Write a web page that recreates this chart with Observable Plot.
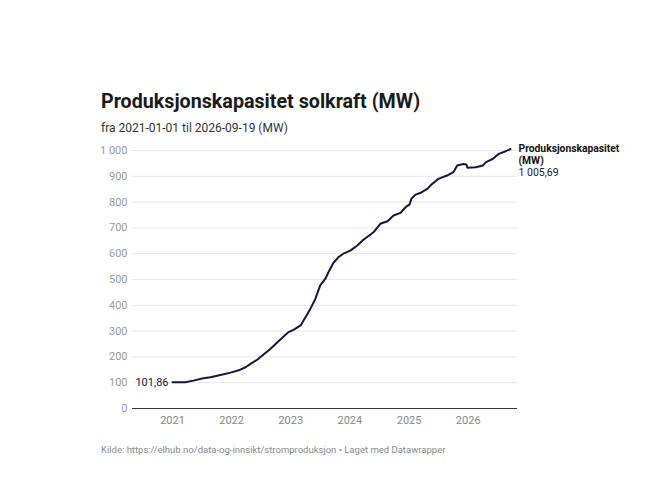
<!DOCTYPE html>
<html>
<head>
<meta charset="utf-8">
<script src="https://cdn.jsdelivr.net/npm/d3@7"></script>
<script src="https://cdn.jsdelivr.net/npm/@observablehq/plot@0.6"></script>
<style>
  html, body { margin: 0; padding: 0; background: #fff; }
  body { width: 650px; height: 500px; position: relative; font-family: Roboto, "Noto Sans", sans-serif; overflow: hidden; }
  .title { position: absolute; left: 101px; top: 90px; font-size: 19.7px; font-weight: 700; color: #1a1a1a; line-height: normal; white-space: nowrap; }
  .subtitle { position: absolute; left: 101px; top: 120.5px; font-size: 12px; color: #333; line-height: normal; white-space: nowrap; }
  .footer { position: absolute; left: 101px; top: 443.5px; font-size: 9.5px; color: #888; line-height: normal; white-space: nowrap; }
  #chart { position: absolute; left: 0; top: 140px; }
</style>
</head>
<body>
<div class="title">Produksjonskapasitet solkraft (MW)</div>
<div class="subtitle">fra 2021-01-01 til 2026-09-19 (MW)</div>
<div id="chart"></div>
<div class="footer">Kilde: https://elhub.no/data-og-innsikt/stromproduksjon • Laget med Datawrapper</div>
<script>
// Series: dates and values
const dates = [
  "2021-01-01","2021-03-21","2021-05-10","2021-07-10","2021-08-23","2021-10-24","2021-12-26",
  "2022-02-14","2022-03-28","2022-04-28","2022-06-10","2022-07-17","2022-08-28","2022-10-11",
  "2022-11-18","2022-12-18","2023-01-18","2023-03-03","2023-04-02","2023-05-02","2023-06-02",
  "2023-07-02","2023-08-03","2023-08-22","2023-09-21","2023-10-22","2023-11-22","2024-01-04",
  "2024-02-16","2024-03-25","2024-05-26","2024-07-07","2024-08-20","2024-09-27","2024-11-09",
  "2024-12-10","2025-01-04","2025-01-15","2025-02-10","2025-03-13","2025-04-25","2025-05-19",
  "2025-07-01","2025-08-23","2025-10-01","2025-10-25","2025-12-02","2025-12-21","2025-12-27",
  "2026-02-17","2026-04-01","2026-04-21","2026-06-03","2026-07-09","2026-08-08","2026-09-19"
];
const values = [
  101.86,102,108,117,121,130,139,
  148,160,173,190,209,231,257,
  279,296,305,322,354,386,425,
  477,503,528,564,586,600,612,
  632,654,683,716,726,748,758,
  780,791,813,829,836,852,868,
  890,903,916,942,948,946,933,
  935,942,955,968,987,994,1005.69
];
const seriesName = "Produksjonskapasitet";
const seriesUnit = "(MW)";
const yTicks = [0,100,200,300,400,500,600,700,800,900,1000];
const xTickLabels = ["2021","2022","2023","2024","2025","2026"];

const data = dates.map((d, i) => ({date: new Date(d + "T00:00:00Z"), value: values[i]}));
const first = data[0], last = data[data.length - 1];
const xTicks = xTickLabels.map(s => new Date(Date.UTC(+s, 0, 1)));

const loc = d3.formatLocale({decimal: ",", thousands: " ", grouping: [3], currency: ["", ""]});
const fmtInt = loc.format(",");
const fmt2 = loc.format(",.2f");
const navy = "#17153f";

const chart = Plot.plot({
  width: 650,
  height: 300,
  marginLeft: 132,
  marginRight: 133,
  marginTop: 10,
  marginBottom: 32,
  style: {fontFamily: "Roboto, sans-serif", fontSize: "11px", background: "transparent", overflow: "visible"},
  x: {type: "utc", domain: [first.date, last.date], range: [172, 510]},
  y: {domain: [0, 1000]},
  marks: [
    Plot.gridY(yTicks, {stroke: "#e6e6e6", strokeOpacity: 1}),
    Plot.axisY(yTicks, {tickSize: 0, tickPadding: 5, tickFormat: fmtInt, fill: "#9a9a9a", label: null, fontSize: 11}),
    Plot.axisX(xTicks, {tickSize: 0, tickPadding: 8, tickFormat: d3.utcFormat("%Y"), fill: "#888", label: null, fontSize: 11}),
    Plot.ruleY([0], {stroke: "#333", strokeWidth: 1.2}),
    Plot.line(data, {x: "date", y: "value", stroke: navy, strokeWidth: 2, curve: "linear"}),
    Plot.text([first], {x: "date", y: "value", text: d => fmt2(d.value), textAnchor: "end", dx: -4, fill: navy, fontSize: 11}),
    Plot.text([last], {x: "date", y: "value", text: () => seriesName, textAnchor: "start", dx: 8, fill: "#111", fontWeight: 700, fontSize: 10.3}),
    Plot.text([last], {x: "date", y: "value", text: () => seriesUnit, textAnchor: "start", dx: 8, dy: 11.5, fill: "#111", fontWeight: 700, fontSize: 10.3}),
    Plot.text([last], {x: "date", y: "value", text: d => fmt2(d.value), textAnchor: "start", dx: 8, dy: 23.5, fill: navy, fontSize: 10.5})
  ]
});
document.getElementById("chart").appendChild(chart);
</script>
</body>
</html>
